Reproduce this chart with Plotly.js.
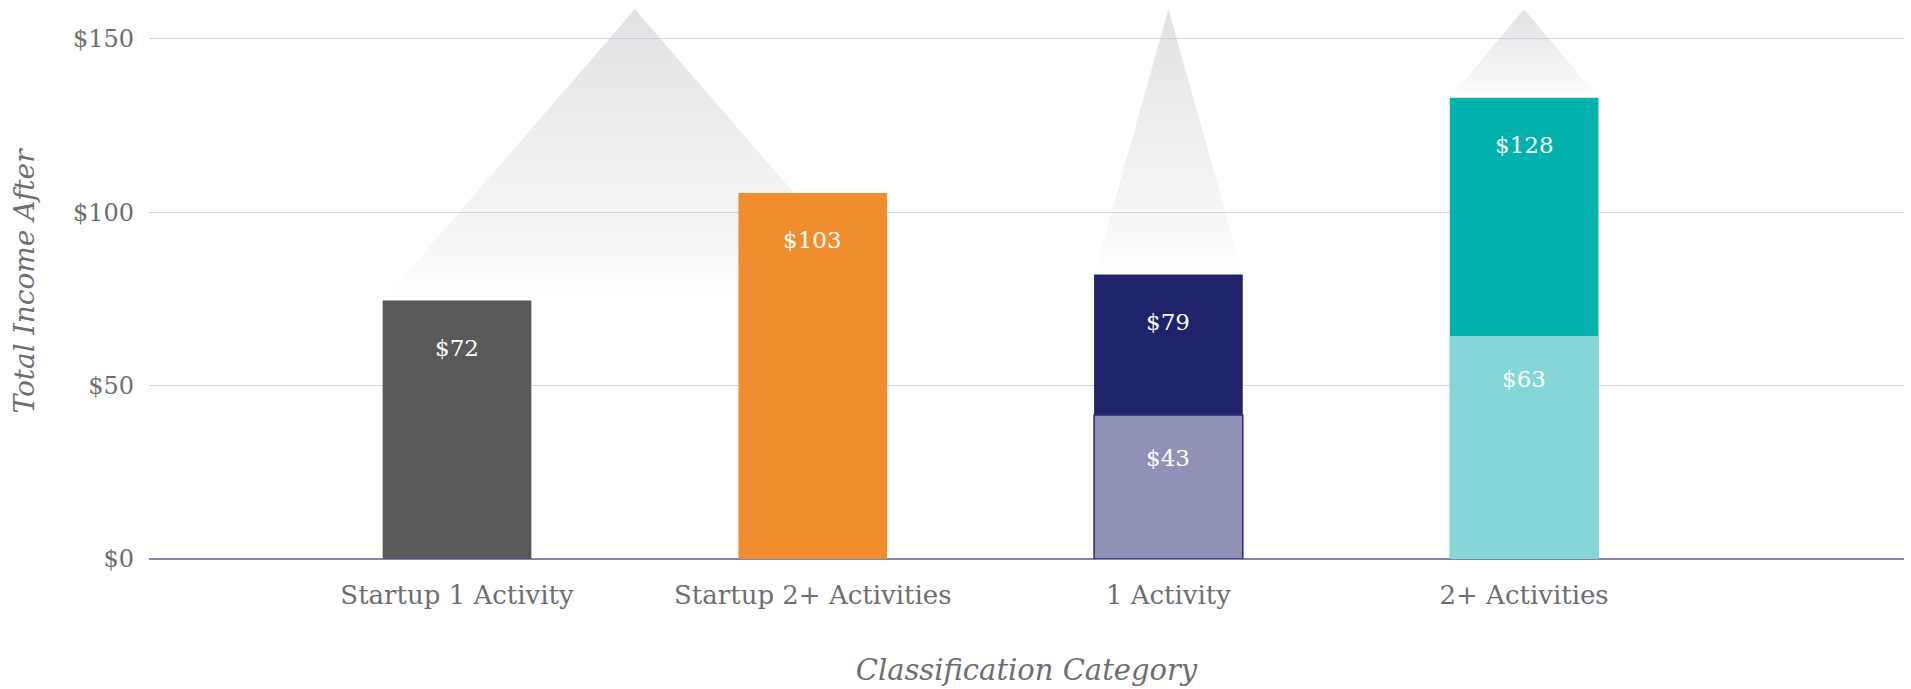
<!DOCTYPE html>
<html>
<head>
<meta charset="utf-8">
<script src="https://cdn.plot.ly/plotly-3.0.1.min.js"></script>
<style>
  html, body { margin: 0; padding: 0; background: #fff; }
  #chart { width: 1911px; height: 689px; }
</style>
</head>
<body>
<div id="chart"></div>
<script>
// categories along the x axis
var categories = ['Startup 1 Activity', 'Startup 2+ Activities', '1 Activity', '2+ Activities'];

// bar heights as drawn (top of each bar) and the lower part of the split bars
var totalIncome = [74.5, 105.5, 82, 133];
var baseIncome = [null, null, 41.5, 64.3];

// labels printed on the bars
var totalLabels = ['$72', '$103', '$79', '$128'];
var baseLabels = ['', '', '$43', '$63'];

// grey "peaks" above the bars: which bars each one spans, and how high it reaches
var peakGroups = [[0, 1], [2], [3]];
var peakTop = 158.5;

// y axis ticks
var yTicks = [0, 50, 100, 150];
var yTickLabels = ['$0', '$50', '$100', '$150'];

document.addEventListener('DOMContentLoaded', function() {
  var xs = categories.map(function(c, i) { return i; });
  var barWidth = 0.418;
  var fontFam = '"DejaVu Serif", "Liberation Serif", serif';
  var grey = '#6d6e71';

  // peaks drawn as filled scatter polygons with a vertical gradient
  var peakTraces = peakGroups.map(function(g) {
    var first = g[0], last = g[g.length - 1];
    var left = xs[first] - barWidth / 2;
    var right = xs[last] + barWidth / 2;
    var base = totalIncome[first];
    var apexX = (xs[first] + xs[last]) / 2;
    var px = [left, apexX];
    var py = [base, peakTop];
    var lastTop = totalIncome[last];
    if (lastTop > base) {
      // stop at the top of the taller bar so the peak stays behind it
      var t = (peakTop - lastTop) / (peakTop - base);
      px.push(apexX + (right - apexX) * t, xs[last] - barWidth / 2, xs[last] - barWidth / 2);
      py.push(lastTop, lastTop, base);
    } else {
      px.push(right);
      py.push(base);
    }
    px.push(left);
    py.push(base);
    return {
      type: 'scatter',
      x: px,
      y: py,
      mode: 'lines',
      line: { width: 0 },
      fill: 'toself',
      fillgradient: {
        type: 'vertical',
        start: base,
        stop: peakTop,
        colorscale: [
          [0, 'rgba(200,202,205,0.0)'],
          [0.15, 'rgba(195,197,200,0.12)'],
          [1, 'rgba(186,189,192,0.45)']
        ]
      },
      hoverinfo: 'skip',
      showlegend: false
    };
  });

  var totalBars = {
    type: 'bar',
    x: xs,
    y: totalIncome,
    width: barWidth,
    marker: {
      color: ['#59595b', '#f08e2f', '#1f236b', '#00b1ae'],
      line: { width: 0 }
    },
    hoverinfo: 'skip',
    showlegend: false
  };

  var baseBars = {
    type: 'bar',
    x: xs,
    y: baseIncome,
    width: barWidth,
    marker: {
      color: ['#59595b', '#f08e2f', '#8f92b6', '#84d7d6'],
      line: { width: [0, 0, 1.5, 0], color: '#2a2d73' }
    },
    hoverinfo: 'skip',
    showlegend: false
  };

  var annotations = [];
  xs.forEach(function(x, i) {
    annotations.push({
      x: x, y: totalIncome[i], text: totalLabels[i], showarrow: false,
      yshift: -47, yanchor: 'middle',
      font: { family: fontFam, size: 23, color: '#ffffff' }
    });
    if (baseIncome[i] !== null) {
      annotations.push({
        x: x, y: baseIncome[i], text: baseLabels[i], showarrow: false,
        yshift: -43, yanchor: 'middle',
        font: { family: fontFam, size: 23, color: '#ffffff' }
      });
    }
  });

  var layout = {
    width: 1911,
    height: 689,
    margin: { l: 149, r: 7, t: 4, b: 130 },
    paper_bgcolor: '#ffffff',
    plot_bgcolor: '#ffffff',
    barmode: 'overlay',
    font: { family: fontFam, color: grey },
    xaxis: {
      range: [-0.866, 4.068],
      tickmode: 'array',
      tickvals: xs,
      ticktext: categories,
      showgrid: false,
      zeroline: false,
      showline: false,
      ticks: '',
      ticklabelstandoff: 18,
      tickfont: { family: fontFam, size: 26, color: grey },
      title: {
        text: 'Classification Category',
        standoff: 50,
        font: { family: fontFam, size: 29, color: grey, style: 'italic' }
      },
      fixedrange: true
    },
    yaxis: {
      range: [0, 160],
      tickmode: 'array',
      tickvals: yTicks,
      ticktext: yTickLabels,
      showgrid: true,
      gridcolor: '#d8d5ea',
      gridwidth: 1,
      zeroline: true,
      zerolinecolor: '#8385b3',
      zerolinewidth: 2,
      showline: false,
      ticks: '',
      ticklabelstandoff: 14,
      tickfont: { family: fontFam, size: 24, color: grey },
      title: {
        text: 'Total Income After',
        standoff: 30,
        font: { family: fontFam, size: 28, color: grey, style: 'italic' }
      },
      fixedrange: true
    },
    annotations: annotations
  };

  var config = { responsive: false, displayModeBar: false, staticPlot: true };
  Plotly.newPlot('chart', peakTraces.concat([totalBars, baseBars]), layout, config);
});
</script>
</body>
</html>
